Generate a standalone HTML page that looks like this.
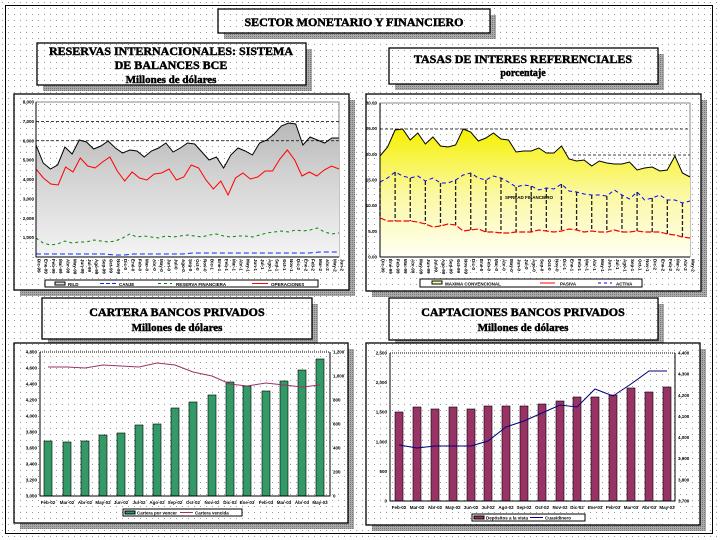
<!DOCTYPE html>
<html><head><meta charset="utf-8"><style>
html,body{margin:0;padding:0;background:#fff;}
svg{display:block;font-family:"Liberation Serif",serif;}
.t{font-weight:bold;text-anchor:middle;fill:#000;stroke:#000;stroke-width:0.45px;}
.s{font-family:"Liberation Sans",sans-serif;font-size:4.5px;font-weight:bold;fill:#000;}
</style></head><body>
<svg id="c" width="720" height="540" viewBox="0 0 720 540" xmlns="http://www.w3.org/2000/svg">
<defs>
<pattern id="dots" width="6" height="6" patternUnits="userSpaceOnUse"><rect width="6" height="6" fill="#fff"/><rect x="2" y="2" width="1" height="1" fill="#999"/></pattern>
<pattern id="sh" width="2" height="2" patternUnits="userSpaceOnUse"><rect width="2" height="2" fill="#aaa"/><rect width="1" height="1" fill="#777"/></pattern>
<linearGradient id="g1" x1="0" y1="0" x2="0" y2="1"><stop offset="0" stop-color="#b8b8b8"/><stop offset="0.35" stop-color="#d0d0d0"/><stop offset="1" stop-color="#f4f4f4"/></linearGradient>
<linearGradient id="g2" x1="0" y1="0" x2="0" y2="1"><stop offset="0" stop-color="#f5f000"/><stop offset="0.5" stop-color="#fbf8a0"/><stop offset="1" stop-color="#fffff4"/></linearGradient>
</defs>
<rect width="720" height="540" fill="url(#dots)"/>
<rect x="5.5" y="5.5" width="707" height="528" fill="none" stroke="#000"/>
<g id="g"></g>
</svg>
<script>
var g=document.getElementById('g'),h='';
function R(x,y,w,hh,f,s,extra){h+='<rect x="'+x+'" y="'+y+'" width="'+w+'" height="'+hh+'" fill="'+f+'" stroke="'+(s||'none')+'" '+(extra||'')+'/>';}
function box(x,y,w,hh){R(x+6,y+6,w,hh,'url(#sh)');R(x,y,w,hh,'url(#dots)','#000','stroke-width="1.3"');}
function T(x,y,s,txt,cls,extra){h+='<text x="'+x+'" y="'+y+'" font-size="'+s+'" class="'+(cls||'t')+'" '+(extra||'')+'>'+txt+'</text>';}
function L(pts,c,w,d){h+='<polyline fill="none" stroke="'+c+'" stroke-width="'+w+'" '+(d?'stroke-dasharray="'+d+'"':'')+' points="'+pts.join(' ')+'"/>';}
function xs(a,x0,x1){return a.map(function(v,i){return (x0+(x1-x0)*i/(a.length-1)).toFixed(1)+','+v;});}
box(218,9,272,24);T(354,26,12,'SECTOR MONETARIO Y FINANCIERO');
box(37,43,269,42);T(171,55,12,'RESERVAS INTERNACIONALES: SISTEMA');T(171,69,12,'DE BALANCES BCE');T(171,83,11,'Millones de dólares');
box(14,94,335,196);
R(36,102,303,155,'url(#dots)','#888');
var blk=[145,163,169,165,147,154,140,142,149,146,141,148,153,150,151,157,151,148,143,152,148,143,144,152,160,157,168,155,148,151,155,143,140,134,126,123,124,145,137,140,143,138,138];
var p=xs(blk,36,339);h+='<polygon fill="url(#g1)" points="36,257 '+p.join(' ')+' 339,257"/>';
for(var i=0;i<9;i++){var y=102+i*155/8;if(i==1||i==2)h+='<line x1="36" x2="339" y1="'+y+'" y2="'+y+'" stroke="#000" stroke-width="0.8" stroke-dasharray="3,2"/>';T(34,y+1.5,4.5,(8-i)==0?'-':((8-i)+',000'),'s','text-anchor="end"');}
L(p,'#000',1);
L(xs([169,178,184,185,167,172,158,166,168,162,157,171,181,172,178,180,174,173,169,180,177,165,168,180,189,181,195,178,173,179,177,171,171,159,150,160,176,172,176,170,166,169],36,339),'#f00',1);
L(xs([238,243,245,244,241,243,242,242,240,241,242,241,238,234,237,236,237,238,236,237,236,235,236,237,235,234,236,237,236,236,237,235,233,232,231,232,230,231,230,228,232,234,233],36,339),'#080',1,'3,3');
L(xs([254,254,254,254,254,254,254,254,255,255,254,254,254,254,254,254,253,253,253,253,253,253,253,253,253,253,253,253,253,252,252,252],36,339),'#03f',1,'5,3');
h+='<line x1="36" y1="102" x2="36" y2="257" stroke="#000"/><line x1="36" y1="257" x2="339" y2="257" stroke="#000"/>';
var m=['Dic','Ene','Feb','Mar','Abr','May','Jun','Jul','Ago','Sep','Oct','Nov'];
for(i=0;i<43;i++){var x=36+303*i/42;T(0,0,4.5,m[i%12]+'-'+(99+Math.floor(i/12))%100,'s','transform="translate('+(x+1.5)+',259) rotate(90)"');}
R(45,280,273,7,'#fff','#000');R(55,282,10,3,'#ddd','#000');T(68,286,4.5,'RILD','s');
h+='<line x1="100" x2="116" y1="283.5" y2="283.5" stroke="#03f" stroke-dasharray="4,2"/>';T(119,286,4.5,'CANJE','s');
h+='<line x1="158" x2="172" y1="283.5" y2="283.5" stroke="#080" stroke-dasharray="3,3"/>';T(176,286,4.5,'RESERVA FINANCIERA','s');
h+='<line x1="252" x2="268" y1="283.5" y2="283.5" stroke="#f00"/>';T(271,286,4.5,'OPERACIONES','s');
box(389,48,269,36);T(523,63,12,'TASAS DE INTERES REFERENCIALES');T(523,76,10,'porcentaje');
box(366,94,335,197);
R(380,103,310,154,'url(#dots)','#888');
var yel=[156,147,130,129,140,133,144,137,146,147,145,129,132,141,138,133,139,140,152,151,151,148,153,153,146,159,161,160,166,161,163,164,164,162,170,168,167,171,170,156,173,177];
p=xs(yel,380,690);h+='<polygon fill="url(#g2)" points="380,257 '+p.join(' ')+' 690,257"/>';
h+='<line x1="380" x2="690" y1="129" y2="129" stroke="#000" stroke-width="0.8" stroke-dasharray="3,2"/><line x1="573" x2="690" y1="155" y2="155" stroke="#000" stroke-width="0.8" stroke-dasharray="3,2"/>';
L(p,'#000',1);
var act=[182,178,172,176,178,176,181,178,183,183,180,175,173,178,180,176,178,182,187,185,186,190,188,189,184,191,192,194,195,195,196,190,195,199,192,200,198,195,200,200,203,201];
var pas=[218,221,221,221,221,222,224,227,226,224,225,231,230,229,232,232,233,233,232,232,232,230,231,232,231,229,230,232,231,232,232,230,232,232,231,232,232,232,234,235,237,238];
for(i=0;i<42;i+=2){x=380+310*i/41;h+='<line x1="'+x+'" x2="'+x+'" y1="'+act[i]+'" y2="'+pas[i]+'" stroke="#222" stroke-width="1.3" stroke-dasharray="4,2"/>';}
L(xs(act,380,690),'#00f',1,'4,3');L(xs(pas,380,690),'#f00',1.2,'6,2');
T(505,199,5,'SPREAD FINANCIERO','s','fill="#c90"');
h+='<line x1="380" y1="103" x2="380" y2="257" stroke="#000"/><line x1="380" y1="257" x2="690" y2="257" stroke="#000"/>';
for(i=0;i<7;i++){y=103+i*154/6;T(377,y+1.5,4.5,['30.00','25.00','20.00','15.00','10.00','5.00','0.00'][i],'s','text-anchor="end"');}
for(i=0;i<42;i++){x=380+310*i/41;T(0,0,4.5,m[i%12]+'-'+(99+Math.floor(i/12))%100,'s','transform="translate('+(x+1.5)+',259) rotate(90)"');}
R(420,279,222,8,'#fff','#000');R(432,281,10,3,'#ff9','#000');T(445,285.5,4.5,'MAXIMA CONVENCIONAL','s');
h+='<line x1="540" x2="555" y1="283" y2="283" stroke="#f00"/>';T(560,285.5,4.5,'PASIVA','s');
h+='<line x1="598" x2="612" y1="283" y2="283" stroke="#00f" stroke-dasharray="3,3"/>';T(616,285.5,4.5,'ACTIVA','s');
box(42,298,270,41);T(177,316,12,'CARTERA BANCOS PRIVADOS');T(177,331,11,'Millones de dólares');
box(14,343,334,180);
h+='<line x1="40" y1="352" x2="330" y2="352" stroke="#000" stroke-dasharray="1,1"/>';
var mm=['Feb-02','Mar-02','Abr-02','May-02','Jun-02','Jul-02','Ago-02','Sep-02','Oct-02','Nov-02','Dic-02','Ene-03','Feb-03','Mar-03','Abr-03','May-03'];
var b3=[441,442,441,435,433,425,424,408,402,395,382,386,391,381,370,359];
var c3=[48,67,85,103,121,139,157,175,193,212,230,247,266,284,302,320];
for(i=0;i<16;i++){R(c3[i]-4,b3[i],8,496-b3[i],'#339966','#000','stroke-width="0.6"');T(c3[i],504,4,mm[i],'s','text-anchor="middle"');}
L(c3.map(function(x,i){return x+','+[367,367,368,365,366,367,363,365,372,376,384,386,383,385,387,385][i];}),'#993366',1);
h+='<path d="M40,352V496H330V352" fill="none" stroke="#000"/>';
for(i=0;i<10;i++){y=352+i*16;T(37,y+1.5,4.5,(['4,800','4,600','4,400','4,200','4,000','3,800','3,600','3,400','3,200','3,000'][i]),'s','text-anchor="end"');}
for(i=0;i<7;i++){y=352+i*24;T(333,y+1.5,4.5,['1,200','1,000','800','600','400','200','0'][i],'s');}
R(123,509,119,7,'#fff','#000');R(125,511,10,3,'#339966','#000');T(137,514.5,4,'Cartera por vencer','s');
h+='<line x1="180" x2="193" y1="512.5" y2="512.5" stroke="#993366"/>';T(195,514.5,4,'Cartera vencida','s');
box(389,298,269,42);T(523,316,12,'CAPTACIONES BANCOS PRIVADOS');T(523,331,11,'Millones de dólares');
box(366,343,334,182);
h+='<line x1="390" y1="353" x2="675" y2="353" stroke="#000" stroke-dasharray="1,1"/>';
var b4=[412,407,409,407,409,406,406,406,404,401,397,397,395,388,392,387];
var c4=[399,417,435,453,471,488,506,524,542,560,577,595,613,631,649,667];
for(i=0;i<16;i++){R(c4[i]-4,b4[i],8,501-b4[i],'#993366','#000','stroke-width="0.6"');T(c4[i],509,4,mm[i],'s','text-anchor="middle"');}
L(c4.map(function(x,i){return x+','+[445,448,446,446,446,441,427,421,413,405,407,389,396,384,371,371][i];}),'#000080',1);
h+='<path d="M390,353V501H675V353" fill="none" stroke="#000"/>';
for(i=0;i<6;i++){y=353+i*148/5;T(387,y+1.5,4.5,['2,500','2,000','1,500','1,000','500','0'][i],'s','text-anchor="end"');}
for(i=0;i<8;i++){y=353+i*148/7;T(678,y+1.5,4.5,['4,400','4,300','4,200','4,100','4,000','3,900','3,800','3,700'][i],'s');}
R(472,514,113,7,'#fff','#000');R(474,516,10,3,'#993366','#000');T(486,519.5,4,'Depósitos a la vista','s');
h+='<line x1="530" x2="543" y1="517.5" y2="517.5" stroke="#000080"/>';T(545,519.5,4,'Cuasidinero','s');
g.innerHTML=h;
</script>
</body></html>
